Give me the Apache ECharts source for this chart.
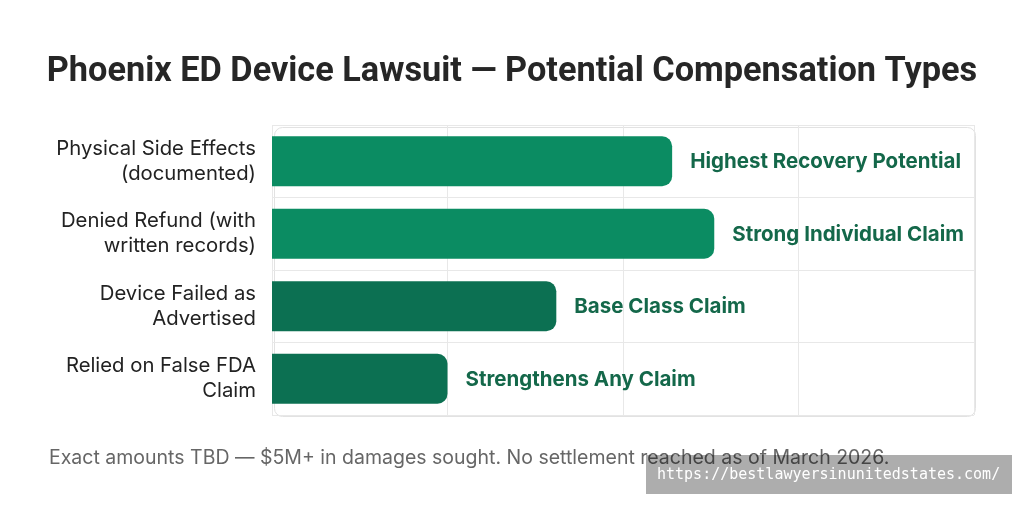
<!DOCTYPE html>
<html><head><meta charset="utf-8">
<script src="https://cdn.jsdelivr.net/npm/echarts@6/dist/echarts.min.js"></script>
<style>html,body{margin:0;padding:0;background:#fff}#c{width:1024px;height:506px}</style>
</head><body><div id="c"></div>
<script>
const categories = ["Physical Side Effects\n(documented)", "Denied Refund (with\nwritten records)", "Device Failed as\nAdvertised", "Relied on False FDA\nClaim"];
const values = [57, 63, 40.5, 25];
const barLabels = ["Highest Recovery Potential", "Strong Individual Claim", "Base Class Claim", "Strengthens Any Claim"];
const barColors = ["#0b8c62", "#0b8c62", "#0c7052", "#0c7052"];
const titleText = "Phoenix ED Device Lawsuit — Potential Compensation Types";
const footText = "Exact amounts TBD — $5M+ in damages sought. No settlement reached as of March 2026.";
const watermark = "https://bestlawyersinunitedstates.com/";

const chart = echarts.init(document.getElementById('c'));
const G = {left: 272, right: 50, top: 125, bottom: 91};
chart.setOption({
  backgroundColor: '#fff',
  animation: false,
  title: {text: titleText, left: 'center', top: 50,
    textStyle: {fontFamily: 'Roboto', fontWeight: 'bold', fontSize: 34.3, color: '#262626'}},
  grid: G,
  xAxis: {type: 'value', min: 0, max: 100, interval: 25,
    axisLabel: {show: false}, axisLine: {show: false}, axisTick: {show: false},
    splitLine: {show: true, lineStyle: {color: '#e8e8e8', width: 1}}},
  yAxis: {type: 'category', data: categories, inverse: true,
    axisLine: {show: false}, axisTick: {show: false},
    splitLine: {show: true, lineStyle: {color: '#e8e8e8', width: 1}},
    axisLabel: {fontFamily: 'Inter', fontSize: 20.3, color: '#222', lineHeight: 25, margin: 16, align: 'right'}},
  graphic: [
    {type: 'rect', left: 272, top: 125, z: 0, silent: true,
      shape: {width: 701, height: 289, r: 8}, style: {fill: 'none', stroke: '#e2e2e2', lineWidth: 1}},
    {type: 'text', left: 49, top: 448, z: 5, style: {text: footText, font: '19.5px Inter', fill: '#666'}},
    {type: 'rect', left: 646, top: 455, z: 10, shape: {width: 366, height: 39}, style: {fill: 'rgba(0,0,0,0.32)'}},
    {type: 'text', left: 657, top: 468, z: 11, style: {text: watermark, font: '15px "DejaVu Sans Mono"', fill: '#fff'}}
  ],
  series: [{
    type: 'bar', barWidth: 50,
    data: values.map((v, i) => ({value: v, itemStyle: {color: barColors[i]}})),
    itemStyle: {borderRadius: [0, 10, 10, 0]},
    label: {show: true, position: 'right', distance: 18, offset: [0, 1],
      formatter: p => barLabels[p.dataIndex],
      fontFamily: 'Inter', fontWeight: 'bold', fontSize: 20.5, color: '#14684a'}
  }]
});
</script></body></html>
